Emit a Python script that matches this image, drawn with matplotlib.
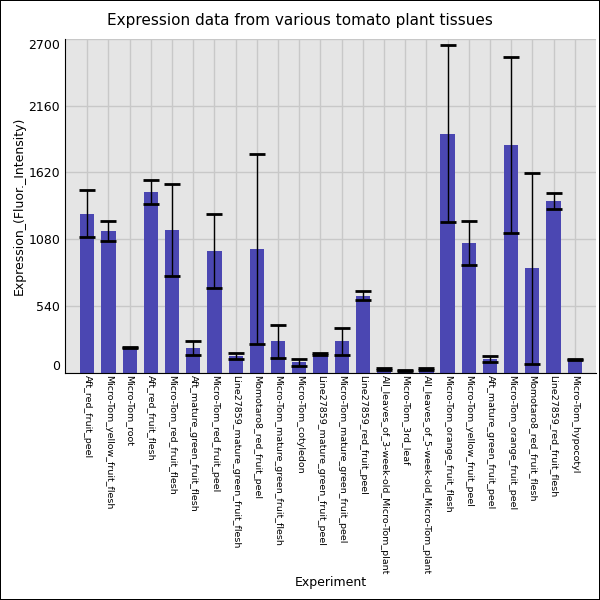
import numpy as np
import matplotlib
matplotlib.use("Agg")
import matplotlib.pyplot as plt

# tissue names and values
tissues = [
    "Aft_red_fruit_peel", "Micro-Tom_yellow_fruit_flesh", "Micro-Tom_root",
    "Aft_red_fruit_flesh", "Micro-Tom_red_fruit_flesh", "Aft_mature_green_fruit_flesh",
    "Micro-Tom_red_fruit_peel", "Line27859_mature_green_fruit_flesh", "Momotaro8_red_fruit_peel",
    "Micro-Tom_mature_green_fruit_flesh", "Micro-Tom_cotyledon", "Line27859_mature_green_fruit_peel",
    "Micro-Tom_mature_green_fruit_peel", "Line27859_red_fruit_peel",
    "All_leaves_of_3-week-old_Micro-Tom_plant", "Micro-Tom_3rd_leaf",
    "All_leaves_of_5-week-old_Micro-Tom_plant", "Micro-Tom_orange_fruit_flesh",
    "Micro-Tom_yellow_fruit_peel", "Aft_mature_green_fruit_peel", "Micro-Tom_orange_fruit_peel",
    "Momotaro8_red_fruit_flesh", "Line27859_red_fruit_flesh", "Micro-Tom_hypocotyl",
]
expression = [1284, 1146, 205, 1462, 1154, 197, 984, 132, 1000, 254, 84, 151,
              254, 624, 30, 18, 30, 1933, 1049, 108, 1843, 846, 1389, 103]
err = [190, 78, 5, 98, 373, 56, 300, 23, 766, 132, 30, 7,
       110, 38, 8, 5, 7, 716, 180, 26, 711, 773, 62, 5]
yticks = [0, 540, 1080, 1620, 2160, 2700]

fig = plt.figure(figsize=(6, 6), dpi=100)
fig.patch.set_edgecolor("black")
fig.patch.set_linewidth(1.2)
ax = fig.add_axes([0.1083, 0.379, 0.885, 0.556])
ax.set_facecolor("#e5e5e5")

x = np.arange(len(tissues))
ax.bar(x, expression, width=0.67, color="#4b47b2", zorder=2)
ax.errorbar(x, expression, yerr=err, fmt="none", ecolor="black", elinewidth=1.0,
            capsize=6, capthick=2, zorder=3)

ax.set_xlim(-1.05, 24.0)
ax.set_ylim(0, 2700)
ax.set_yticks(yticks)
ax.set_xticks(x)
ax.set_xticklabels(tissues, rotation=270, ha="center", va="top")
ax.tick_params(axis="both", length=0, labelsize=9)
ax.tick_params(axis="x", labelsize=6.8, pad=2)
labs = ax.get_yticklabels()
labs[0].set_va("bottom")
labs[-1].set_va("top")

ax.grid(True, color="#c8c8c8", linewidth=1, zorder=0)
ax.set_axisbelow(True)
for s in ["top", "right"]:
    ax.spines[s].set_visible(False)
ax.spines["left"].set_color("black")
ax.spines["bottom"].set_color("black")

ax.set_ylabel("Expression_(Fluor._Intensity)", fontsize=9, labelpad=2)
ax.set_xlabel("Experiment", fontsize=9, labelpad=1)
fig.text(0.5, 0.965, "Expression data from various tomato plant tissues",
         ha="center", va="center", fontsize=11)

fig.savefig("out.png", dpi=100, edgecolor=fig.get_edgecolor())
